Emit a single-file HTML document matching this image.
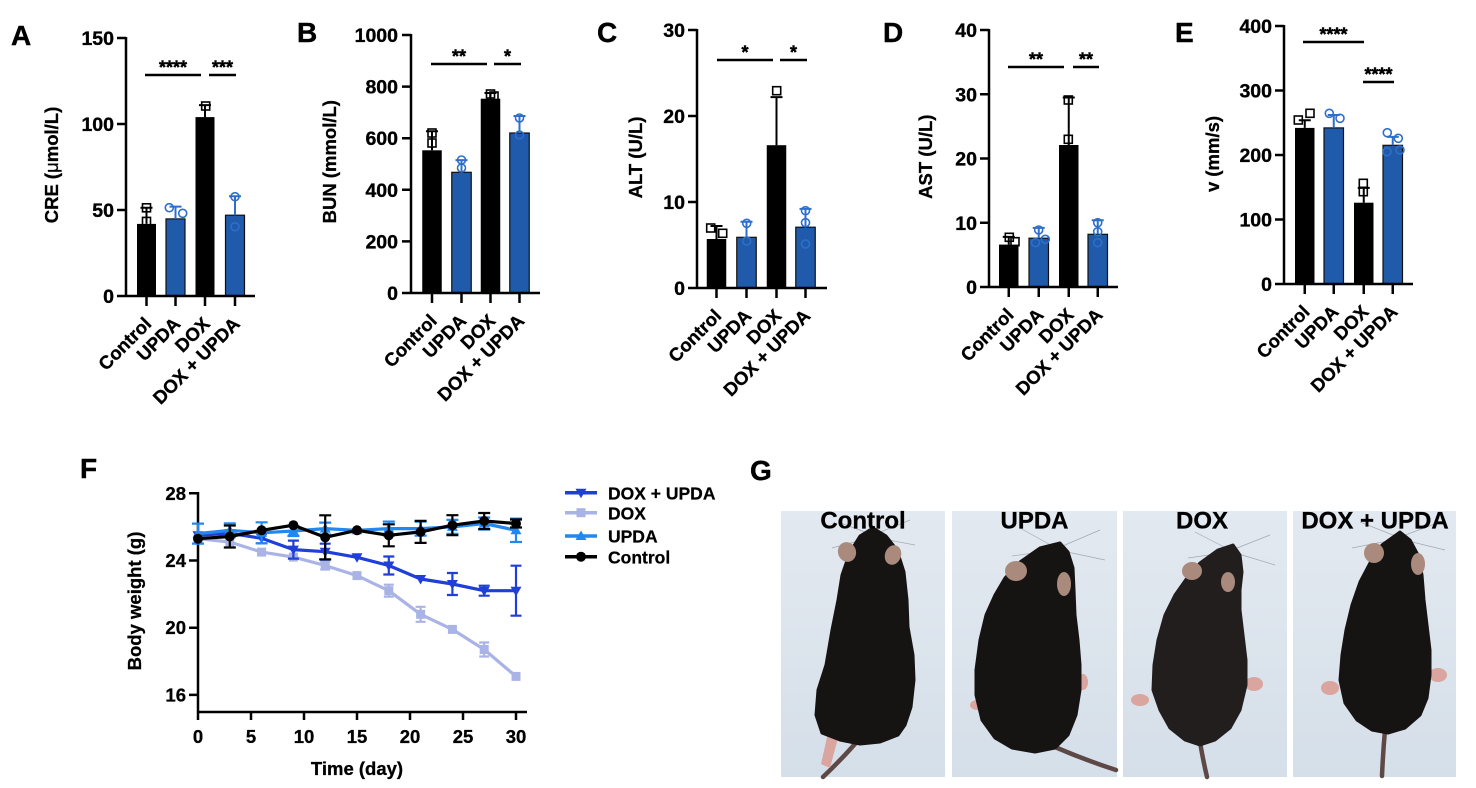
<!DOCTYPE html>
<html><head><meta charset="utf-8"><style>
html,body{margin:0;padding:0;background:#fff;}
svg{display:block;}
text{font-family:"Liberation Sans",Arial,sans-serif;font-weight:bold;fill:#000;}
.tk{font-size:19.5px;text-anchor:end;stroke:#000;stroke-width:0.35;}
.xl{font-size:18.5px;text-anchor:end;stroke:#000;stroke-width:0.35;}
.yt{font-size:18.5px;text-anchor:middle;stroke:#000;stroke-width:0.3;}
.st{font-size:18px;text-anchor:middle;stroke:#000;stroke-width:0.5;}
.lab{font-size:28px;stroke:#000;stroke-width:0.4;}
.ax{stroke:#000;stroke-width:2.5;fill:none;}
.eb{stroke:#000;stroke-width:2;fill:none;}
.ebb{stroke:#2e6fcb;stroke-width:2;fill:none;}
.bk{fill:#000;}
.bl{fill:#1f5aab;stroke:#111;stroke-width:1.2;}
.sq{fill:none;stroke:#000;stroke-width:1.6;}
.ci{fill:none;stroke:#2e6fcb;stroke-width:1.6;}
.ftk{font-size:18.5px;stroke:#000;stroke-width:0.3;}
.leg{font-size:17.5px;stroke:#000;stroke-width:0.25;}
.pt{font-size:24px;text-anchor:middle;stroke:#000;stroke-width:0.3;}
.mouse{fill:#161313;stroke:#161313;stroke-width:3;stroke-linejoin:round;}
.ear{fill:#a98a7c;}
.tail{fill:none;stroke:#5e4846;stroke-width:4.5;stroke-linecap:round;}
.foot{fill:#d9a59e;}
.wh{fill:none;stroke:#8a8f96;stroke-width:0.7;opacity:0.7;}
</style></head><body>
<svg width="1476" height="788" viewBox="0 0 1476 788" xmlns="http://www.w3.org/2000/svg">
<defs>
<linearGradient id="bg" x1="0" y1="0" x2="0" y2="1">
<stop offset="0" stop-color="#e3e9f0"/>
<stop offset="1" stop-color="#d5dfe9"/>
</linearGradient>
</defs>
<rect width="1476" height="788" fill="#fff"/>

<!-- ===== Panel A ===== -->
<text x="11" y="45" class="lab">A</text>
<rect class="bk" x="137" y="223.9" width="19" height="72.1"/>
<rect class="bl" x="166" y="218.9" width="19" height="77.1"/>
<rect class="bk" x="195.5" y="117.1" width="19" height="178.9"/>
<rect class="bl" x="225.5" y="215.2" width="19" height="80.8"/>
<path class="eb" d="M146.5 223.9V207.8M140.5 207.8H152.5M205 117.1V105.1M199 105.1H211"/>
<path class="ebb" d="M175.5 218.9V206.6M169.5 206.6H181.5M235 215.2V196.2M229 196.2H241"/>
<rect class="sq" x="142.5" y="203.8" width="8" height="8"/>
<rect class="sq" x="142.5" y="217.4" width="8" height="8"/>
<rect class="sq" x="201.7" y="102" width="8" height="8"/>
<circle class="ci" cx="169.3" cy="207.7" r="4"/>
<circle class="ci" cx="182.7" cy="213.3" r="4"/>
<circle class="ci" cx="235" cy="196.7" r="4"/>
<circle class="ci" cx="235" cy="226.7" r="4"/>
<path class="ax" d="M126 37V296.5M117 296H255M117 210H126M117 124H126M117 38H126M146.5 296V306M175.5 296V306M205 296V306M235 296V306"/>
<text class="tk" x="114" y="303">0</text>
<text class="tk" x="114" y="217">50</text>
<text class="tk" x="114" y="131">100</text>
<text class="tk" x="114" y="45">150</text>
<text class="xl" transform="translate(152.5,325) rotate(-45)">Control</text>
<text class="xl" transform="translate(181.5,325) rotate(-45)">UPDA</text>
<text class="xl" transform="translate(211,325) rotate(-45)">DOX</text>
<text class="xl" transform="translate(241,325) rotate(-45)">DOX + UPDA</text>
<path class="ax" d="M145 75H201M209 75H236"/>
<text class="st" x="173" y="73.5">****</text>
<text class="st" x="222.5" y="73.5">***</text>
<text class="yt" transform="translate(58,165) rotate(-90)">CRE (<tspan font-weight="normal">μ</tspan>mol/L)</text>

<!-- ===== Panel B ===== -->
<text x="297" y="42" class="lab">B</text>
<rect class="bk" x="422.25" y="150.3" width="19.5" height="142.7"/>
<rect class="bl" x="451.75" y="172.3" width="19.5" height="120.7"/>
<rect class="bk" x="480.75" y="98.7" width="19.5" height="194.3"/>
<rect class="bl" x="509.75" y="133" width="19.5" height="160"/>
<path class="eb" d="M432 150.3V131.2M426 131.2H438M490.5 98.7V93M484.5 93H496.5"/>
<path class="ebb" d="M461.5 172.3V160.1M455.5 160.1H467.5M519.5 133V116M513.5 116H525.5"/>
<rect class="sq" x="428" y="129" width="8" height="8"/>
<rect class="sq" x="428" y="139" width="8" height="8"/>
<rect class="sq" x="486.5" y="90" width="8" height="8"/>
<rect class="sq" x="490" y="92" width="8" height="8"/>
<circle class="ci" cx="461.5" cy="160" r="4"/>
<circle class="ci" cx="461.5" cy="168" r="4"/>
<circle class="ci" cx="519.5" cy="118" r="4"/>
<circle class="ci" cx="519.5" cy="135" r="4"/>
<path class="ax" d="M411 34V293.5M402 293H540M402 241.4H411M402 189.8H411M402 138.2H411M402 86.6H411M402 35H411M432 293V303M461.5 293V303M490.5 293V303M519.5 293V303"/>
<text class="tk" x="398" y="300">0</text>
<text class="tk" x="398" y="248.4">200</text>
<text class="tk" x="398" y="196.8">400</text>
<text class="tk" x="398" y="145.2">600</text>
<text class="tk" x="398" y="93.6">800</text>
<text class="tk" x="398" y="42">1000</text>
<text class="xl" transform="translate(438,322) rotate(-45)">Control</text>
<text class="xl" transform="translate(467.5,322) rotate(-45)">UPDA</text>
<text class="xl" transform="translate(496.5,322) rotate(-45)">DOX</text>
<text class="xl" transform="translate(525.5,322) rotate(-45)">DOX + UPDA</text>
<path class="ax" d="M431 64H487M494 64H521"/>
<text class="st" x="459" y="62.5">**</text>
<text class="st" x="507.5" y="62.5">*</text>
<text class="yt" transform="translate(336,161.7) rotate(-90)">BUN (mmol/L)</text>

<!-- ===== Panel C ===== -->
<text x="597" y="42" class="lab">C</text>
<rect class="bk" x="706.75" y="239" width="19.5" height="49"/>
<rect class="bl" x="736.75" y="237.3" width="19.5" height="50.7"/>
<rect class="bk" x="766.75" y="145.2" width="19.5" height="142.8"/>
<rect class="bl" x="795.75" y="227.2" width="19.5" height="60.8"/>
<path class="eb" d="M716.5 239V226M710.5 226H722.5M776.5 145.2V97.1M770.5 97.1H782.5"/>
<path class="ebb" d="M746.5 237.3V221.8M740.5 221.8H752.5M805.5 227.2V208.9M799.5 208.9H811.5"/>
<rect class="sq" x="706.7" y="224" width="8" height="8"/>
<rect class="sq" x="718.7" y="229.3" width="8" height="8"/>
<rect class="sq" x="772.7" y="86.7" width="8" height="8"/>
<circle class="ci" cx="746.7" cy="223.3" r="4"/>
<circle class="ci" cx="746.7" cy="241" r="4"/>
<circle class="ci" cx="805.5" cy="210.7" r="4"/>
<circle class="ci" cx="805.5" cy="222.7" r="4"/>
<circle class="ci" cx="805.5" cy="244" r="4"/>
<path class="ax" d="M697 29V288.5M688 288H827M688 202H697M688 116H697M688 30H697M716.5 288V298M746.5 288V298M776.5 288V298M805.5 288V298"/>
<text class="tk" x="685" y="295">0</text>
<text class="tk" x="685" y="209">10</text>
<text class="tk" x="685" y="123">20</text>
<text class="tk" x="685" y="37">30</text>
<text class="xl" transform="translate(722.5,317) rotate(-45)">Control</text>
<text class="xl" transform="translate(752.5,317) rotate(-45)">UPDA</text>
<text class="xl" transform="translate(782.5,317) rotate(-45)">DOX</text>
<text class="xl" transform="translate(811.5,317) rotate(-45)">DOX + UPDA</text>
<path class="ax" d="M717 60H773M780 60H807"/>
<text class="st" x="745" y="58.5">*</text>
<text class="st" x="793.5" y="58.5">*</text>
<text class="yt" transform="translate(642,157.5) rotate(-90)">ALT (U/L)</text>

<!-- ===== Panel D ===== -->
<text x="883" y="42" class="lab">D</text>
<rect class="bk" x="999" y="244.6" width="19.5" height="42.4"/>
<rect class="bl" x="1029" y="238.2" width="19.5" height="48.8"/>
<rect class="bk" x="1059" y="145" width="19.5" height="142"/>
<rect class="bl" x="1088" y="234.3" width="19.5" height="52.7"/>
<path class="eb" d="M1008.75 244.6V236.9M1002.75 236.9H1014.75M1068.75 145V97.5M1062.75 97.5H1074.75"/>
<path class="ebb" d="M1038.75 238.2V227.9M1032.75 227.9H1044.75M1097.75 234.3V220.2M1091.75 220.2H1103.75"/>
<rect class="sq" x="1005.3" y="233.3" width="8" height="8"/>
<rect class="sq" x="1011" y="237.7" width="8" height="8"/>
<rect class="sq" x="1064.3" y="96" width="8" height="8"/>
<rect class="sq" x="1064.3" y="135.3" width="8" height="8"/>
<circle class="ci" cx="1038.7" cy="230" r="4"/>
<circle class="ci" cx="1045.3" cy="239.3" r="4"/>
<circle class="ci" cx="1035.5" cy="242.7" r="4"/>
<circle class="ci" cx="1097.7" cy="222.7" r="4"/>
<circle class="ci" cx="1097.7" cy="231.7" r="4"/>
<circle class="ci" cx="1097.7" cy="242.7" r="4"/>
<path class="ax" d="M989 29V287.5M980 287H1118M980 222.75H989M980 158.5H989M980 94.25H989M980 30H989M1008.75 287V297M1038.75 287V297M1068.75 287V297M1097.75 287V297"/>
<text class="tk" x="977" y="294">0</text>
<text class="tk" x="977" y="229.75">10</text>
<text class="tk" x="977" y="165.5">20</text>
<text class="tk" x="977" y="101.25">30</text>
<text class="tk" x="977" y="37">40</text>
<text class="xl" transform="translate(1014.75,316) rotate(-45)">Control</text>
<text class="xl" transform="translate(1044.75,316) rotate(-45)">UPDA</text>
<text class="xl" transform="translate(1074.75,316) rotate(-45)">DOX</text>
<text class="xl" transform="translate(1103.75,316) rotate(-45)">DOX + UPDA</text>
<path class="ax" d="M1008 67H1064M1073 67H1099"/>
<text class="st" x="1036" y="65.5">**</text>
<text class="st" x="1086" y="65.5">**</text>
<text class="yt" transform="translate(932,156.7) rotate(-90)">AST (U/L)</text>

<!-- ===== Panel E ===== -->
<text x="1175" y="42" class="lab">E</text>
<rect class="bk" x="1295" y="127.9" width="19.5" height="156.1"/>
<rect class="bl" x="1324" y="127.9" width="19.5" height="156.1"/>
<rect class="bk" x="1354" y="202.7" width="19.5" height="81.3"/>
<rect class="bl" x="1383" y="145.3" width="19.5" height="138.7"/>
<path class="eb" d="M1304.75 127.9V120.2M1298.75 120.2H1310.75M1363.75 202.7V187.9M1357.75 187.9H1369.75"/>
<path class="ebb" d="M1333.75 127.9V115M1327.75 115H1339.75M1392.75 145.3V136.9M1386.75 136.9H1398.75"/>
<rect class="sq" x="1294.3" y="116" width="8" height="8"/>
<rect class="sq" x="1306" y="109.3" width="8" height="8"/>
<rect class="sq" x="1359.3" y="179.3" width="8" height="8"/>
<rect class="sq" x="1359.3" y="187.7" width="8" height="8"/>
<circle class="ci" cx="1329.3" cy="113.3" r="4"/>
<circle class="ci" cx="1340" cy="118.3" r="4"/>
<circle class="ci" cx="1387.3" cy="132.7" r="4"/>
<circle class="ci" cx="1398.3" cy="138.3" r="4"/>
<circle class="ci" cx="1387" cy="151.7" r="4"/>
<circle class="ci" cx="1400" cy="150" r="4"/>
<path class="ax" d="M1284 25V284.5M1275 284H1413M1275 219.5H1284M1275 155H1284M1275 90.5H1284M1275 26H1284M1304.75 284V294M1333.75 284V294M1363.75 284V294M1392.75 284V294"/>
<text class="tk" x="1272" y="291">0</text>
<text class="tk" x="1272" y="226.5">100</text>
<text class="tk" x="1272" y="162">200</text>
<text class="tk" x="1272" y="97.5">300</text>
<text class="tk" x="1272" y="33">400</text>
<text class="xl" transform="translate(1310.75,313) rotate(-45)">Control</text>
<text class="xl" transform="translate(1339.75,313) rotate(-45)">UPDA</text>
<text class="xl" transform="translate(1369.75,313) rotate(-45)">DOX</text>
<text class="xl" transform="translate(1398.75,313) rotate(-45)">DOX + UPDA</text>
<path class="ax" d="M1303 42H1364M1363 82H1394"/>
<text class="st" x="1333.5" y="40.5">****</text>
<text class="st" x="1378.5" y="80.5">****</text>
<text class="yt" transform="translate(1219,154) rotate(-90)">v (mm/s)</text>

<!-- ===== Panel F ===== -->
<text x="80" y="478" class="lab">F</text>
<path class="ax" d="M198 492V712.5M197 712H527M189 493.3H198M189 560.5H198M189 627.7H198M189 694.9H198M198 712V720M251 712V720M304 712V720M357 712V720M410 712V720M463 712V720M516 712V720"/>
<text class="ftk" x="186" y="499.8" text-anchor="end">28</text>
<text class="ftk" x="186" y="567" text-anchor="end">24</text>
<text class="ftk" x="186" y="634.2" text-anchor="end">20</text>
<text class="ftk" x="186" y="701.4" text-anchor="end">16</text>
<text class="ftk" x="198" y="743" text-anchor="middle">0</text>
<text class="ftk" x="251" y="743" text-anchor="middle">5</text>
<text class="ftk" x="304" y="743" text-anchor="middle">10</text>
<text class="ftk" x="357" y="743" text-anchor="middle">15</text>
<text class="ftk" x="410" y="743" text-anchor="middle">20</text>
<text class="ftk" x="463" y="743" text-anchor="middle">25</text>
<text class="ftk" x="516" y="743" text-anchor="middle">30</text>
<text x="357" y="775" font-size="18.5" text-anchor="middle" stroke="#000" stroke-width="0.3">Time (day)</text>
<text transform="translate(141,601) rotate(-90)" font-size="18.5" text-anchor="middle" stroke="#000" stroke-width="0.3">Body weight (g)</text>

<!-- DOX series -->
<g stroke="#aab3e6" fill="none" stroke-width="2.2">
<path d="M325.2 561.5V569.5M320.2 561.5H330.2M320.2 569.5H330.2M388.8 584.7V596.7M383.8 584.7H393.8M383.8 596.7H393.8M420.6 606.8V621.8M415.6 606.8H425.6M415.6 621.8H425.6M484.2 642.5V656.5M479.2 642.5H489.2M479.2 656.5H489.2"/>
<polyline stroke-width="3.2" stroke-linejoin="round" points="198,538.7 229.8,542 261.6,552.1 293.4,557.1 325.2,565.5 357,575.6 388.8,590.7 420.6,614.3 452.4,629.4 484.2,649.5 516,676.4"/>
</g>
<g fill="#aab3e6">
<rect x="193.5" y="534.2" width="9" height="9"/><rect x="225.3" y="537.5" width="9" height="9"/><rect x="257.1" y="547.6" width="9" height="9"/><rect x="288.9" y="552.6" width="9" height="9"/><rect x="320.7" y="561" width="9" height="9"/><rect x="352.5" y="571.1" width="9" height="9"/><rect x="384.3" y="586.2" width="9" height="9"/><rect x="416.1" y="609.8" width="9" height="9"/><rect x="447.9" y="624.9" width="9" height="9"/><rect x="479.7" y="645" width="9" height="9"/><rect x="511.5" y="671.9" width="9" height="9"/>
</g>

<!-- DOX + UPDA series -->
<g stroke="#1f3fd6" fill="none" stroke-width="2.2">
<path d="M198 531.3V539.3M229.8 529.3V537.3M261.6 533.3V543.3M256.1 533.3H267.1M256.1 543.3H267.1M293.4 540.6V558.6M287.9 540.6H298.9M287.9 558.6H298.9M325.2 543.7V559.7M319.7 543.7H330.7M319.7 559.7H330.7M388.8 556.5V574.5M383.3 556.5H394.3M383.3 574.5H394.3M452.4 573V595M446.9 573H457.9M446.9 595H457.9M484.2 585.7V595.7M478.7 585.7H489.7M478.7 595.7H489.7M516 565.7V615.7M510.5 565.7H521.5M510.5 615.7H521.5"/>
<polyline stroke-width="3.2" stroke-linejoin="round" points="198,535.3 229.8,533.3 261.6,538.3 293.4,549.6 325.2,551.7 357,557.3 388.8,565.5 420.6,579 452.4,584 484.2,590.7 516,590.7"/>
</g>
<path fill="#1f3fd6" d="M192.5 531.3H203.5L198 540.8ZM224.3 529.3H235.3L229.8 538.8ZM256.1 534.3H267.1L261.6 543.8ZM287.9 545.6H298.9L293.4 555.1ZM319.7 547.7H330.7L325.2 557.2ZM351.5 553.3H362.5L357 562.8ZM383.3 561.5H394.3L388.8 571ZM415.1 575H426.1L420.6 584.5ZM446.9 580H457.9L452.4 589.5ZM478.7 586.7H489.7L484.2 596.2ZM510.5 586.7H521.5L516 596.2Z"/>

<!-- UPDA series -->
<g stroke="#2288f0" fill="none" stroke-width="2.2">
<path d="M198 523.6V543.6M192 523.6H204M192 543.6H204M229.8 523.3V537.3M223.8 523.3H235.8M223.8 537.3H235.8M261.6 522.3V543.3M255.6 522.3H267.6M255.6 543.3H267.6M293.4 526V536M287.4 526H299.4M287.4 536H299.4M325.2 522.6V534.6M319.2 522.6H331.2M319.2 534.6H331.2M388.8 521.6V535.6M382.8 521.6H394.8M382.8 535.6H394.8M420.6 521.6V535.6M414.6 521.6H426.6M414.6 535.6H426.6M452.4 519.9V533.9M446.4 519.9H458.4M446.4 533.9H458.4M484.2 517.5V529.5M478.2 517.5H490.2M478.2 529.5H490.2M516 518.6V542M510 518.6H522M510 542H522"/>
<polyline stroke-width="3.2" stroke-linejoin="round" points="198,533.6 229.8,530.3 261.6,532.8 293.4,531 325.2,528.6 357,530.3 388.8,528.6 420.6,528.6 452.4,526.9 484.2,523.5 516,530.3"/>
</g>
<path fill="#2288f0" d="M192.5 537.6H203.5L198 528.1ZM224.3 534.3H235.3L229.8 524.8ZM256.1 536.8H267.1L261.6 527.3ZM287.9 535H298.9L293.4 525.5ZM319.7 532.6H330.7L325.2 523.1ZM351.5 534.3H362.5L357 524.8ZM383.3 532.6H394.3L388.8 523.1ZM415.1 532.6H426.1L420.6 523.1ZM446.9 530.9H457.9L452.4 521.4ZM478.7 527.5H489.7L484.2 518ZM510.5 534.3H521.5L516 524.8Z"/>

<!-- Control series -->
<g stroke="#000" fill="none" stroke-width="2.2">
<path d="M229.8 525.5V547.5M223.8 525.5H235.8M223.8 547.5H235.8M325.2 515.3V559.3M319.2 515.3H331.2M319.2 559.3H331.2M388.8 524.3V546.3M382.8 524.3H394.8M382.8 546.3H394.8M420.6 520.9V542.9M414.6 520.9H426.6M414.6 542.9H426.6M452.4 515.2V535.2M446.4 515.2H458.4M446.4 535.2H458.4M484.2 513V529M478.2 513H490.2M478.2 529H490.2M516 519.5V527.5M510 519.5H522M510 527.5H522"/>
<polyline stroke-width="3.2" stroke-linejoin="round" points="198,538.7 229.8,536.5 261.6,530.3 293.4,525.2 325.2,537.3 357,530.3 388.8,535.3 420.6,531.9 452.4,525.2 484.2,521 516,523.5"/>
</g>
<g fill="#000">
<circle cx="198" cy="538.7" r="5"/><circle cx="229.8" cy="536.5" r="5"/><circle cx="261.6" cy="530.3" r="5"/><circle cx="293.4" cy="525.2" r="5"/><circle cx="325.2" cy="537.3" r="5"/><circle cx="357" cy="530.3" r="5"/><circle cx="388.8" cy="535.3" r="5"/><circle cx="420.6" cy="531.9" r="5"/><circle cx="452.4" cy="525.2" r="5"/><circle cx="484.2" cy="521" r="5"/><circle cx="516" cy="523.5" r="5"/>
</g>

<!-- Legend -->
<path d="M565 492.7H597" stroke="#1f3fd6" stroke-width="3.5"/>
<path d="M575.5 488.7H586.5L581 498.2Z" fill="#1f3fd6"/>
<text class="leg" x="608" y="499.5">DOX + UPDA</text>
<path d="M565 512.7H597" stroke="#aab3e6" stroke-width="3.5"/>
<rect x="576.5" y="508.2" width="9" height="9" fill="#aab3e6"/>
<text class="leg" x="608" y="519.5">DOX</text>
<path d="M565 536H597" stroke="#2288f0" stroke-width="3.5"/>
<path d="M575.5 540H586.5L581 530.5Z" fill="#2288f0"/>
<text class="leg" x="608" y="542.5">UPDA</text>
<path d="M565 556.7H597" stroke="#000" stroke-width="3.5"/>
<circle cx="581" cy="556.7" r="5" fill="#000"/>
<text class="leg" x="608" y="563.5">Control</text>

<!-- ===== Panel G ===== -->
<text x="750" y="480" class="lab">G</text>
<rect x="781" y="511" width="164" height="266" fill="url(#bg)"/>
<rect x="952" y="511" width="165" height="266" fill="url(#bg)"/>
<rect x="1123" y="511" width="164" height="266" fill="url(#bg)"/>
<rect x="1293" y="511" width="163" height="266" fill="url(#bg)"/>

<!-- whiskers -->
<path class="wh" d="M873 535L910 520M873 537L915 545M873 535L838 522M873 537L832 548"/>
<path class="wh" d="M1058 548L1100 530M1058 550L1105 560M1056 548L1020 528M1056 550L1012 556"/>
<path class="wh" d="M1232 550L1270 535M1232 552L1275 565M1230 550L1195 532M1230 552L1188 558"/>
<path class="wh" d="M1400 537L1440 522M1400 539L1445 550M1398 537L1360 522M1398 539L1352 548"/>

<!-- Control mouse -->
<path class="tail" d="M860 738Q845 756 823 777"/>
<path class="foot" d="M828 733L821 764L830 768L838 738Z"/>
<path class="mouse" d="M873 528L886 536L897 550L904 572L907 600L908 627L913 655L914 680L911 707L905 725L898 735L880 742L860 744L840 740L822 733L816 715L818 690L826 665L832 630L838 600L842 575L850 552L860 536Z"/>
<ellipse class="ear" cx="847" cy="552" rx="9" ry="10" transform="rotate(-20 847 552)"/>
<ellipse class="ear" cx="893" cy="555" rx="8" ry="10" transform="rotate(20 893 555)"/>

<!-- UPDA mouse -->
<path class="tail" d="M1055 747Q1085 760 1116 770"/>
<ellipse class="foot" cx="977" cy="705" rx="7" ry="5"/>
<ellipse class="foot" cx="1083" cy="682" rx="5" ry="8"/>
<path class="mouse" d="M1060 543L1068 552L1073 568L1074 590L1075 615L1078 640L1080 665L1080 690L1076 715L1068 735L1055 748L1035 752L1012 748L995 738L982 720L976 695L976 670L980 640L986 615L995 595L1005 578L1020 562L1040 548Z"/>
<ellipse class="ear" cx="1016" cy="571" rx="11" ry="10"/>
<ellipse class="ear" cx="1064" cy="584" rx="7" ry="12"/>

<!-- DOX mouse -->
<path class="tail" d="M1200 742Q1203 760 1207 777"/>
<ellipse class="foot" cx="1140" cy="700" rx="9" ry="6"/>
<ellipse class="foot" cx="1254" cy="684" rx="9" ry="7"/>
<path class="mouse" style="fill:#221e1e;stroke:#221e1e" d="M1233 545L1240 555L1242 572L1240 590L1240 610L1243 635L1246 660L1246 685L1240 710L1230 728L1215 740L1200 745L1185 740L1170 728L1160 710L1153 690L1154 665L1158 640L1165 615L1175 595L1187 578L1200 563L1218 550Z"/>
<ellipse class="ear" cx="1192" cy="571" rx="10" ry="9"/>
<ellipse class="ear" cx="1228" cy="582" rx="7" ry="10"/>

<!-- DOX + UPDA mouse -->
<path class="tail" d="M1385 730Q1383 752 1382 776"/>
<ellipse class="foot" cx="1330" cy="688" rx="9" ry="7"/>
<ellipse class="foot" cx="1438" cy="675" rx="9" ry="7"/>
<path class="mouse" d="M1400 532L1410 540L1418 555L1422 575L1424 600L1427 625L1430 650L1430 675L1427 698L1420 715L1405 728L1388 733L1372 730L1357 720L1345 703L1340 680L1342 655L1346 630L1352 605L1360 582L1370 563L1382 545Z"/>
<ellipse class="ear" cx="1374" cy="553" rx="10" ry="10"/>
<ellipse class="ear" cx="1418" cy="564" rx="7" ry="11"/>

<text class="pt" x="863" y="528.5">Control</text>
<text class="pt" x="1034.5" y="528.5">UPDA</text>
<text class="pt" x="1202" y="528.5">DOX</text>
<text class="pt" x="1375" y="528.5">DOX + UPDA</text>
</svg>
</body></html>
